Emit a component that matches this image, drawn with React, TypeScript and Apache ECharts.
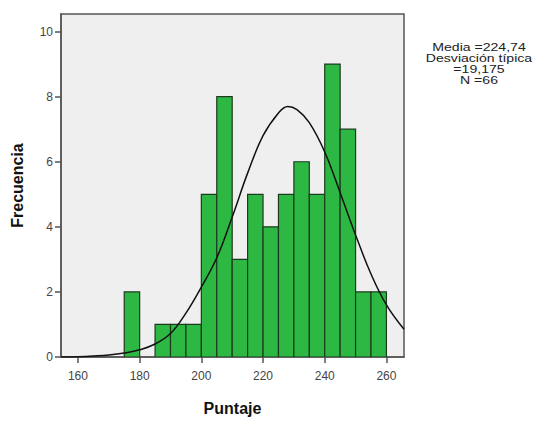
import React, { useEffect, useRef } from "react";
import * as echarts from "echarts";

const binStarts = [175, 180, 185, 190, 195, 200, 205, 210, 215, 220, 225, 230, 235, 240, 245, 250, 255];
const counts = [2, 0, 1, 1, 1, 5, 8, 3, 5, 4, 5, 6, 5, 9, 7, 2, 2];
const binWidth = 5;
const curveX = [154.5, 160, 165, 170, 175, 180, 185, 190, 195, 200, 205, 210, 215, 220, 225, 228, 231, 235, 240, 245, 250, 255, 260, 265.7];
const curveY = [0.0, 0.01, 0.03, 0.06, 0.12, 0.22, 0.4, 0.72, 1.35, 2.15, 3.05, 4.3, 5.65, 6.8, 7.5, 7.7, 7.6, 7.2, 6.3, 5.05, 3.75, 2.55, 1.6, 0.85];
const xTicks = [160, 180, 200, 220, 240, 260];
const yTicks = [0, 2, 4, 6, 8, 10];
const statsLines = ["Media =224,74", "Desviación típica", "=19,175", "N =66"];

export default function App() {
  const ref = useRef<HTMLDivElement>(null);
  useEffect(() => {
    document.body.style.margin = "0";
    const chart = echarts.init(ref.current!, null, { renderer: "svg" });
    const font = "'Liberation Sans', Arial, sans-serif";
    chart.setOption({
      animation: false,
      backgroundColor: "#ffffff",
      grid: {
        left: 61,
        top: 14,
        width: 343,
        height: 351,
        show: true,
        backgroundColor: "#efefef",
        borderColor: "#555555",
        borderWidth: 1.5,
      },
      xAxis: {
        type: "value",
        min: 154.5,
        max: 265.7,
        name: "Puntaje",
        nameLocation: "middle",
        nameGap: 43,
        nameTextStyle: { fontFamily: font, fontWeight: "bold", fontSize: 16, color: "#111" },
        axisLine: { show: true, onZero: false, lineStyle: { color: "#555", width: 1.5 } },
        axisTick: { show: true, customValues: xTicks, length: 6, lineStyle: { color: "#555", width: 1.5 } },
        axisLabel: { customValues: xTicks, fontFamily: font, fontSize: 12, color: "#444", margin: 13 },
        splitLine: { show: false },
      },
      yAxis: {
        type: "value",
        min: 0,
        max: 10.54,
        name: "Frecuencia",
        nameLocation: "middle",
        nameGap: 36,
        nameTextStyle: { fontFamily: font, fontWeight: "bold", fontSize: 16, color: "#111" },
        axisLine: { show: true, lineStyle: { color: "#555", width: 1.5 } },
        axisTick: { show: true, customValues: yTicks, length: 6, lineStyle: { color: "#555", width: 1.5 } },
        axisLabel: { customValues: yTicks, fontFamily: font, fontSize: 12, color: "#444", margin: 8 },
        splitLine: { show: false },
      },
      graphic: statsLines.map((t, i) => ({
        type: "text",
        x: 479,
        y: 48 + i * 11,
        scaleX: 1.28,
        style: {
          text: t,
          fontFamily: font,
          fontSize: 11,
          fill: "#222",
          align: "center",
          verticalAlign: "middle",
        },
      })),
      series: [
        {
          type: "custom",
          clip: true,
          data: binStarts.map((b, i) => [b, b + binWidth, counts[i]]),
          encode: { x: [0, 1], y: 2 },
          renderItem: (params: any, api: any) => {
            const c = api.value(2);
            if (!c) return null;
            const p0 = api.coord([api.value(0), c]);
            const p1 = api.coord([api.value(1), 0]);
            return {
              type: "rect",
              shape: { x: p0[0], y: p0[1], width: p1[0] - p0[0], height: p1[1] - p0[1] },
              style: { fill: "#2db843", stroke: "#1c3a1e", lineWidth: 1.2 },
            };
          },
        },
        {
          type: "line",
          data: curveX.map((x, i) => [x, curveY[i]]),
          smooth: 0.4,
          showSymbol: false,
          symbol: "none",
          lineStyle: { color: "#111", width: 1.5 },
          z: 5,
        },
      ],
    });
    return () => chart.dispose();
  }, []);
  return <div ref={ref} style={{ width: 535, height: 421 }} />;
}
